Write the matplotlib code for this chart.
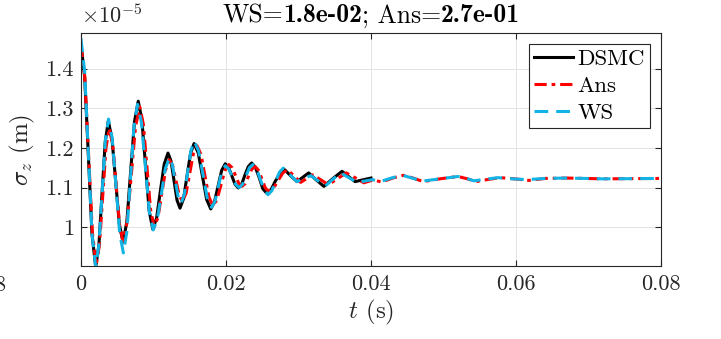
import matplotlib
matplotlib.use('Agg')
import matplotlib.pyplot as plt
import matplotlib.ticker as ticker

# sigma_z in units of 1e-5 m
t_dsmc = [0, 0.00051, 0.00102, 0.00152, 0.00203, 0.00247, 0.0029, 0.00334,
          0.00377, 0.00428, 0.00479, 0.00529, 0.0058, 0.00633, 0.00685,
          0.00738, 0.0079, 0.0084, 0.0089, 0.0094, 0.0099, 0.01043, 0.01095,
          0.01148, 0.0120, 0.01242, 0.01283, 0.01325, 0.01366, 0.01415,
          0.01463, 0.01512, 0.0156, 0.01618, 0.01675, 0.01733, 0.0179,
          0.0184, 0.0189, 0.0194, 0.0199, 0.02035, 0.0208, 0.02125, 0.0217,
          0.02216, 0.0226, 0.02308, 0.02354, 0.02406, 0.0246, 0.02508, 0.0256,
          0.02623, 0.0268, 0.02748, 0.0281, 0.0289, 0.0298, 0.0306, 0.0314,
          0.0324, 0.0335, 0.0347, 0.0360, 0.0369, 0.0378, 0.0400]
s_dsmc = [1.462, 1.380, 1.181, 0.982, 0.900, 0.954, 1.084, 1.214,
          1.268, 1.223, 1.115, 1.007, 0.962, 1.014, 1.140,
          1.266, 1.318, 1.271, 1.157, 1.042, 0.995, 1.023, 1.091,
          1.159, 1.187, 1.167, 1.118, 1.068, 1.048, 1.072,
          1.130, 1.187, 1.211, 1.187, 1.129, 1.070, 1.046,
          1.063, 1.103, 1.143, 1.160, 1.151, 1.130, 1.108, 1.099,
          1.108, 1.131, 1.153, 1.162, 1.151, 1.124, 1.097, 1.086,
          1.095, 1.116, 1.136, 1.145, 1.130, 1.115, 1.126, 1.137,
          1.120, 1.103, 1.122, 1.141, 1.128, 1.115, 1.124]

t_ans = [0, 0.000525, 0.00105, 0.001575, 0.0021, 0.00255, 0.0030, 0.00345,
         0.0039, 0.004375, 0.00485, 0.005325, 0.0058, 0.006375, 0.00695,
         0.007525, 0.0081, 0.0086, 0.0091, 0.0096, 0.0101, 0.010625, 0.01115,
         0.011675, 0.0122, 0.01265, 0.0131, 0.01355, 0.0140, 0.0145, 0.0150,
         0.0155, 0.0160, 0.01655, 0.0171, 0.01765, 0.0182, 0.01875, 0.0193,
         0.01985, 0.0204, 0.02085, 0.0213, 0.02175, 0.0222, 0.02265, 0.0231,
         0.02355, 0.0240, 0.024475, 0.02495, 0.025425, 0.0259, 0.02655,
         0.0272, 0.02785, 0.0285, 0.0294, 0.0303, 0.03115, 0.0320, 0.03305,
         0.0341, 0.03535, 0.0366, 0.0378, 0.0390, 0.0403, 0.0415, 0.0430,
         0.0445, 0.0458, 0.0472, 0.0495, 0.0520, 0.0533, 0.0545, 0.0560,
         0.0578, 0.0598, 0.0618, 0.0640, 0.0670, 0.0720, 0.0800]
s_ans = [1.460, 1.379, 1.183, 0.986, 0.905, 0.955, 1.078, 1.200,
         1.250, 1.208, 1.107, 1.006, 0.964, 1.014, 1.134,
         1.254, 1.304, 1.260, 1.152, 1.044, 1.000, 1.025, 1.085,
         1.145, 1.170, 1.155, 1.118, 1.080, 1.065, 1.086, 1.136,
         1.185, 1.206, 1.184, 1.130, 1.076, 1.054, 1.069, 1.106,
         1.143, 1.158, 1.150, 1.131, 1.111, 1.103, 1.110, 1.128,
         1.146, 1.153, 1.144, 1.122, 1.099, 1.090, 1.098,
         1.118, 1.137, 1.145, 1.129, 1.113, 1.123, 1.132, 1.120,
         1.107, 1.122, 1.137, 1.125, 1.112, 1.119, 1.114, 1.124,
         1.131, 1.124, 1.115, 1.122, 1.128, 1.122, 1.115, 1.120,
         1.125, 1.122, 1.118, 1.123, 1.124, 1.122, 1.123]

t_ws = [0, 0.00051, 0.00102, 0.00152, 0.00203, 0.00247, 0.00292, 0.00336,
        0.0038, 0.00431, 0.00483, 0.00534, 0.00585, 0.00634, 0.00683,
        0.00731, 0.0078, 0.00834, 0.00889, 0.00943, 0.00997, 0.01053,
        0.01109, 0.01164, 0.0122, 0.0126, 0.0130, 0.0134, 0.0138, 0.01426,
        0.01472, 0.01517, 0.01563, 0.01622, 0.01682, 0.01741, 0.0180,
        0.01848, 0.01895, 0.01943, 0.0199, 0.02038, 0.02085, 0.02133, 0.0218,
        0.02228, 0.02275, 0.02323, 0.0237, 0.02423, 0.02475, 0.02528, 0.0258,
        0.02633, 0.02685, 0.02738, 0.0279, 0.02885, 0.0298, 0.03075, 0.0317,
        0.0327, 0.0337, 0.03475, 0.0358, 0.03695, 0.0381, 0.0402, 0.0413,
        0.0428, 0.0443, 0.0457, 0.0470, 0.0495, 0.0520, 0.0532, 0.0542,
        0.0558, 0.0575, 0.0595, 0.0615, 0.0640, 0.0670, 0.0720, 0.0800]
s_ws = [1.476, 1.392, 1.188, 0.984, 0.900, 0.954, 1.087, 1.219,
        1.273, 1.224, 1.104, 0.984, 0.935, 0.990, 1.123,
        1.255, 1.310, 1.264, 1.152, 1.039, 0.993, 1.020,
        1.084, 1.148, 1.175, 1.158, 1.118, 1.077, 1.060, 1.083,
        1.139, 1.194, 1.217, 1.193, 1.134, 1.074, 1.050,
        1.065, 1.103, 1.140, 1.155, 1.147, 1.128, 1.108, 1.100,
        1.108, 1.129, 1.150, 1.158, 1.147, 1.120, 1.093, 1.082,
        1.092, 1.116, 1.139, 1.149, 1.132, 1.115, 1.123, 1.130,
        1.117, 1.104, 1.121, 1.137, 1.125, 1.113, 1.120, 1.115,
        1.124, 1.131, 1.124, 1.116, 1.122, 1.128, 1.123, 1.117,
        1.121, 1.125, 1.122, 1.120, 1.123, 1.124, 1.122, 1.123]

labels = ['DSMC', 'Ans', 'WS']
ws_err = '1.8e-02'
ans_err = '2.7e-01'

plt.rcParams['font.family'] = 'serif'
plt.rcParams['font.serif'] = ['cmr10']
plt.rcParams['mathtext.fontset'] = 'cm'
plt.rcParams['axes.formatter.use_mathtext'] = True

fig = plt.figure(figsize=(7.21, 3.39), dpi=100)
ax = fig.add_axes([0.1123, 0.2153, 0.8045, 0.6873])

ax.plot(t_dsmc, s_dsmc, '-', color='black', lw=2.2, label=labels[0])
ax.plot(t_ans, s_ans, '-.', color='#ff0000', lw=2.2, label=labels[1],
        dashes=(4, 1.6, 1.2, 1.6))
ax.plot(t_ws, s_ws, '--', color='#12b4e6', lw=2.2, label=labels[2],
        dashes=(4.5, 2.6))

ax.set_xlim(0, 0.08)
ax.set_ylim(0.902, 1.49)
ax.xaxis.set_major_locator(ticker.MultipleLocator(0.02))
ax.yaxis.set_major_locator(ticker.FixedLocator([1.0, 1.1, 1.2, 1.3, 1.4]))
ax.xaxis.set_major_formatter(ticker.FuncFormatter(lambda v, p: '%g' % round(v, 4)))
ax.yaxis.set_major_formatter(ticker.FuncFormatter(lambda v, p: '%g' % round(v, 4)))
ax.tick_params(direction='in', top=True, right=True, labelsize=16,
               colors='#262626', length=4, width=0.8)
ax.tick_params(axis='x', pad=6)
ax.tick_params(axis='y', pad=5)
ax.grid(True, color='#e3e3e3', lw=0.7)
ax.set_axisbelow(True)
for s in ax.spines.values():
    s.set_color('#262626')
    s.set_linewidth(0.8)

ax.set_xlabel(r'$t$ (s)', fontsize=18, color='#262626', labelpad=3)
ax.set_ylabel(r'$\sigma_z$ (m)', fontsize=18, color='#262626', labelpad=6)
fig.text(0.1123, 1 - 27 / 339, r'$\times 10^{-5}$', fontsize=16,
         color='#262626', va='bottom', ha='left')
fig.text(-0.008, 1 - 285 / 339, '8', fontsize=16, color='#262626',
         va='center', ha='left')

# title: regular and bold pieces, centred over the axes
pieces = [('WS=', 'cmr10'), (ws_err, 'cmb10'), ('; Ans=', 'cmr10'),
          (ans_err, 'cmb10')]
fig.canvas.draw()
rend = fig.canvas.get_renderer()
texts = []
total = 0
for s, fam in pieces:
    tx = fig.text(0, 0, s, fontsize=18.5, family=fam, va='baseline', ha='left')
    w = tx.get_window_extent(rend).width
    texts.append((tx, w))
    total += w
xc = (81 + 661) / 2
x0 = xc - total / 2
for tx, w in texts:
    tx.set_position((x0 / 721, 1 - 22.5 / 339))
    x0 += w

leg = ax.legend(loc='upper right', fontsize=16.5, fancybox=False,
                edgecolor='#262626', framealpha=1, handlelength=1.7,
                handletextpad=0.2, labelspacing=0.3, borderpad=0.2,
                borderaxespad=0.5)
leg.get_frame().set_linewidth(0.8)

fig.savefig('out.png', dpi=100)
